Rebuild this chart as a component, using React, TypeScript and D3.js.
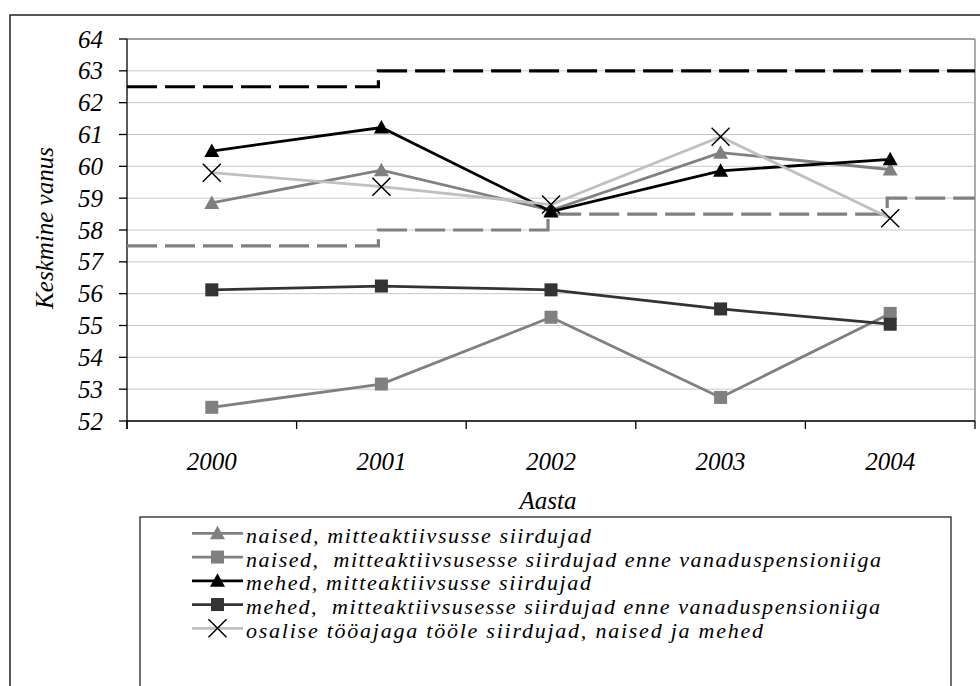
import React from "react";
import * as d3 from "d3";

const years = ["2000", "2001", "2002", "2003", "2004"];
const yTicks = [52, 53, 54, 55, 56, 57, 58, 59, 60, 61, 62, 63, 64];

const naisedMitteakt = [58.85, 59.88, 58.62, 60.43, 59.9];
const naisedEnnePension = [52.43, 53.16, 55.26, 52.74, 55.38];
const mehedMitteakt = [60.48, 61.22, 58.58, 59.86, 60.22];
const mehedEnnePension = [56.12, 56.24, 56.12, 55.52, 55.04];
const osalise = [59.8, 59.36, 58.8, 60.93, 58.37];

const pensionAgeMen = [62.5, 63, 63, 63, 63];
const pensionAgeWomen = [57.5, 58, 58.5, 58.5, 59];

const legendLabels = [
  "naised, mitteaktiivsusse siirdujad",
  "naised,  mitteaktiivsusesse siirdujad enne vanaduspensioniiga",
  "mehed, mitteaktiivsusse siirdujad",
  "mehed,  mitteaktiivsusesse siirdujad enne vanaduspensioniiga",
  "osalise tööajaga tööle siirdujad, naised ja mehed",
];

// layout: rendered widths of legend labels
const legendTextWidths = [345, 635, 345, 634, 517];

type Series = { values: number[]; color: string; marker: "tri" | "sq" | "x"; markerColor: string; label: string };

const series: Series[] = [
  { values: naisedMitteakt, color: "#808080", marker: "tri", markerColor: "#808080", label: legendLabels[0] },
  { values: naisedEnnePension, color: "#808080", marker: "sq", markerColor: "#808080", label: legendLabels[1] },
  { values: mehedMitteakt, color: "#000000", marker: "tri", markerColor: "#000000", label: legendLabels[2] },
  { values: mehedEnnePension, color: "#333333", marker: "sq", markerColor: "#333333", label: legendLabels[3] },
  { values: osalise, color: "#c0c0c0", marker: "x", markerColor: "#000000", label: legendLabels[4] },
];

function Marker({ kind, x, y, color }: { kind: string; x: number; y: number; color: string }) {
  if (kind === "tri") {
    const s = 7.5;
    return <path d={`M${x},${y - s} L${x + s},${y + s * 0.8} L${x - s},${y + s * 0.8} Z`} fill={color} />;
  }
  if (kind === "sq") {
    const s = 6.5;
    return <rect x={x - s} y={y - s} width={2 * s} height={2 * s} fill={color} />;
  }
  const s = 9;
  return (
    <path d={`M${x - s},${y - s} L${x + s},${y + s} M${x - s},${y + s} L${x + s},${y - s}`} stroke={color} strokeWidth={1.5} fill="none" />
  );
}

export default function App() {
  const left = 127, right = 975, top = 39, bottom = 421;
  const x = d3.scaleBand<string>().domain(years).range([left, right]).padding(0);
  const y = d3.scaleLinear().domain([52, 64]).range([bottom, top]);
  const cx = (yr: string) => (x(yr) as number) + x.bandwidth() / 2;

  const line = d3.line<number>().x((_, i) => cx(years[i])).y((d) => y(d));

  const stepPath = (vals: number[]) => {
    const pts: [number, number][] = [[left, y(vals[0])]];
    for (let i = 1; i < vals.length; i++) pts.push([cx(years[i]) - 3, y(vals[i])]);
    pts.push([right, y(vals[vals.length - 1])]);
    return d3.line().curve(d3.curveStepAfter)(pts) as string;
  };

  const boundaries = years.map((yr) => x(yr) as number).concat([right]);

  const legendX = 192, legendY0 = 533.3, legendDy = 23.75;

  return (
    <div style={{ position: "absolute", left: 0, top: 0, width: 980, height: 686, background: "#fff" }}>
      <svg width={980} height={686}>
        <rect x={0} y={0} width={980} height={686} fill="#fff" />
        <rect x={10} y={15} width={1000} height={700} fill="none" stroke="#222" strokeWidth={1.5} />

        {yTicks.map((t) => (
          <line key={t} x1={left} x2={right} y1={y(t)} y2={y(t)} stroke={t === 64 ? "#808080" : "#c8c8c8"} strokeWidth={t === 64 ? 1.3 : 1} />
        ))}
        <line x1={right} x2={right} y1={top} y2={bottom} stroke="#808080" strokeWidth={1.3} />

        <line x1={left} x2={left} y1={top} y2={bottom + 8} stroke="#000" strokeWidth={1.3} />
        <line x1={left} x2={right} y1={bottom} y2={bottom} stroke="#000" strokeWidth={1.3} />
        {yTicks.map((t) => (
          <line key={"t" + t} x1={left - 8} x2={left} y1={y(t)} y2={y(t)} stroke="#000" strokeWidth={1.3} />
        ))}
        {boundaries.map((b, i) => (
          <line key={"b" + i} x1={b} x2={b} y1={bottom} y2={bottom + 8} stroke="#000" strokeWidth={1.3} />
        ))}

        <g fontFamily="Liberation Serif" fontStyle="italic" fontSize={25}>
          {yTicks.map((t) => (
            <text key={"l" + t} x={103} y={y(t) + 8.5} textAnchor="end">
              {t}
            </text>
          ))}
          {years.map((yr) => (
            <text key={yr} x={cx(yr)} y={470} textAnchor="middle">
              {yr}
            </text>
          ))}
          <text x={cx("2002") - 3} y={509} textAnchor="middle">
            Aasta
          </text>
          <text transform={`translate(53,${(top + bottom) / 2 - 2}) rotate(-90)`} textAnchor="middle">
            Keskmine vanus
          </text>
        </g>

        <path d={stepPath(pensionAgeMen)} fill="none" stroke="#000" strokeWidth={3.2} strokeDasharray="30 8" />
        <path d={stepPath(pensionAgeWomen)} fill="none" stroke="#808080" strokeWidth={3.2} strokeDasharray="30 8" />

        {series.map((s, si) => (
          <g key={si}>
            <path d={line(s.values) as string} fill="none" stroke={s.color} strokeWidth={2.8} />
            {s.values.map((v, i) => (
              <Marker key={i} kind={s.marker} x={cx(years[i])} y={y(v)} color={s.markerColor} />
            ))}
          </g>
        ))}

        <rect x={140} y={517} width={811} height={200} fill="#fff" stroke="#222" strokeWidth={1.3} />
        <g fontFamily="Liberation Serif" fontStyle="italic" fontSize={22}>
          {series.map((s, i) => {
            const ly = legendY0 + i * legendDy;
            return (
              <g key={"lg" + i}>
                <line x1={legendX} x2={legendX + 51} y1={ly} y2={ly} stroke={s.color} strokeWidth={2.8} />
                <Marker kind={s.marker} x={legendX + 25.5} y={ly} color={s.markerColor} />
                <text
                  x={246}
                  y={ly + 9.5}
                  xmlSpace="preserve"
                  textLength={legendTextWidths[i]}
                  lengthAdjust="spacing"
                >
                  {s.label}
                </text>
              </g>
            );
          })}
        </g>
      </svg>
    </div>
  );
}
